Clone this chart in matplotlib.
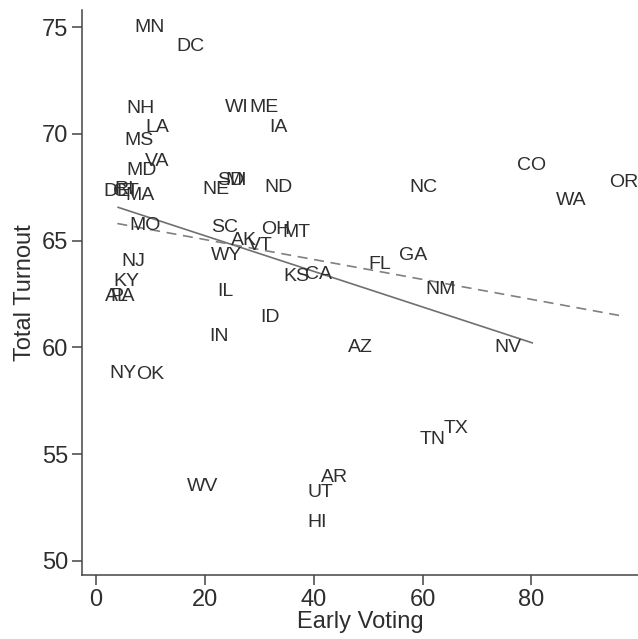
import matplotlib
matplotlib.use("Agg")
import matplotlib.pyplot as plt

states = ["MN","DC","NH","LA","MS","VA","MD","DE","RI","CT","MA","MO","NJ","KY","AL","PA",
          "NY","OK","WI","ME","IA","NE","SD","MI","ND","SC","AK","VT","WY","OH","MT","IL",
          "IN","ID","KS","CA","FL","GA","NM","NC","CO","WA","OR","NV","AZ","TX","TN","AR",
          "UT","HI","WV"]
early = [9.9,17.3,8.1,11.2,7.9,11.2,8.3,3.9,5.1,5.5,8.1,9.0,6.8,5.5,3.9,4.8,
         5.0,9.9,25.9,30.9,33.5,22.1,24.8,25.7,33.5,23.7,27.2,30.1,23.9,33.1,36.9,23.7,
         22.6,32.0,36.8,40.8,52.2,58.3,63.4,60.1,80.1,87.3,96.9,75.7,48.5,66.2,61.9,43.9,
         41.2,40.6,19.5]
turnout = [75.0,74.1,71.2,70.3,69.7,68.7,68.3,67.3,67.4,67.3,67.1,65.7,64.0,63.1,62.4,62.4,
           58.8,58.75,71.25,71.25,70.3,67.4,67.8,67.8,67.5,65.6,65.0,64.75,64.3,65.5,65.4,62.6,
           60.5,61.4,63.3,63.4,63.9,64.3,62.7,67.5,68.5,66.9,67.7,60.0,60.0,56.2,55.7,53.9,
           53.2,51.8,53.5]

fit_solid_x = [3.9, 80.3]
fit_solid_y = [66.57, 60.2]
fit_dash_x = [3.9, 96.7]
fit_dash_y = [65.8, 61.47]

plt.rcParams['font.family'] = ['Liberation Sans', 'DejaVu Sans']

fig = plt.figure(figsize=(6.38, 6.39), dpi=100)
ax = fig.add_axes([82/638, 1-575/639, 1-82/638, (575-10)/639])

ax.plot(fit_solid_x, fit_solid_y, color='#707070', lw=1.2, solid_capstyle='butt')
ax.plot(fit_dash_x, fit_dash_y, color='#808080', lw=1.2, ls=(0, (6, 4)))

for s, x, y in zip(states, early, turnout):
    ax.text(x, y, s, ha='center', va='center', fontsize=14, color='#2e2e2e')

ax.set_xlim(-2.6, 99.6)
ax.set_ylim(49.34, 75.8)
ax.set_xticks([0, 20, 40, 60, 80])
ax.set_yticks([50, 55, 60, 65, 70, 75])
for sp in ['top', 'right']:
    ax.spines[sp].set_visible(False)
for sp in ['left', 'bottom']:
    ax.spines[sp].set_color('#444444')
    ax.spines[sp].set_linewidth(1.1)
ax.tick_params(direction='out', length=7, width=1.1, color='#444444',
               labelsize=17, labelcolor='#2e2e2e', pad=3)
ax.set_xlabel('Early Voting', fontsize=17, color='#2e2e2e', labelpad=0)
ax.set_ylabel('Total Turnout', fontsize=17, color='#2e2e2e', labelpad=4)

fig.savefig('out.png', dpi=100)
